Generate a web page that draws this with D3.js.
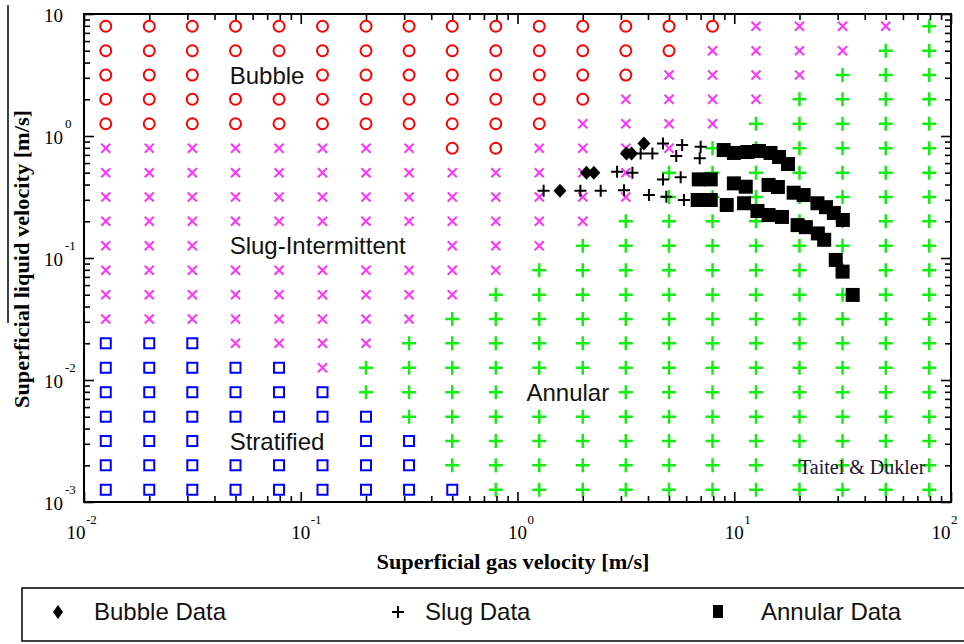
<!DOCTYPE html>
<html>
<head>
<meta charset="utf-8">
<script src="https://cdn.jsdelivr.net/npm/d3@7"></script>
<style>
  body { margin: 0; background: #fff; }
  svg { display: block; }
</style>
</head>
<body>
<div id="chart"></div>
<script>

// Grid of the regime map (superficial velocities, m/s)
var gasGrid = [0.0126, 0.02, 0.0316, 0.05, 0.0794, 0.126, 0.2, 0.316, 0.5, 0.794,
               1.26, 2, 3.16, 5, 7.94, 12.6, 20, 31.6, 50, 79.4];
var liqGrid = [7.94, 5, 3.16, 2, 1.26, 0.794, 0.5, 0.316, 0.2, 0.126,
               0.0794, 0.05, 0.0316, 0.02, 0.0126, 0.00794, 0.005, 0.00316, 0.002, 0.00126];

// o = bubble, x = slug-intermittent, + = annular, s = stratified, . = under a label
var regimeRows = [
  "oooooooooooooooxxxx+",
  "ooooooooooooooxxxx++",
  "ooo..ooooooooxxxx+++",
  "ooooooooooooxxxx++++",
  "oooooooooooxxxx+++++",
  "xxxxxxxxooxxxx++++++",
  "xxxxxxxxxxxxx+++++++",
  "xxxxxxxxxxxxx+++++++",
  "xxxxxxxxxxxx++++++++",
  "xxx.....xxx+++++++++",
  "xxxxxxxxxx++++++++++",
  "xxxxxxxxx+++++++++++",
  "xxxxxxxx++++++++++++",
  "sssxxxx+++++++++++++",
  "sssssx++++++++++++++",
  "ssssss++++..++++++++",
  "sssssss+++++++++++++",
  "sss...ss++++++++++++",
  "ssssssss++++++++++++",
  "sssssssss+++++++++++"
];

// Experimental data
var bubbleGas = [1.57, 2.08, 2.25, 3.18, 3.36, 3.83];
var bubbleLiq = [0.356, 0.50, 0.50, 0.72, 0.72, 0.87];

var slugGas = [1.32, 1.95, 2.42, 3.10, 4.04, 4.86, 5.86, 2.88, 3.39, 4.69, 5.66,
               3.70, 4.19, 4.69, 5.75, 5.40, 7.00, 6.93];
var slugLiq = [0.356, 0.356, 0.356, 0.36, 0.328, 0.318, 0.299, 0.509, 0.50, 0.441, 0.459,
               0.72, 0.72, 0.87, 0.843, 0.686, 0.817, 0.656];

var annularGas = [8.94, 9.96, 11.5, 13.0, 14.7, 16.1, 17.7,
                  6.86, 7.79, 9.96, 11.3, 14.4, 15.9, 18.8, 20.9, 24.2, 26.5, 28.8, 31.7,
                  6.78, 7.79, 9.23, 11.1, 12.8, 14.4, 16.6, 19.6, 21.4, 24.3, 26.0, 29.4, 31.6, 35.2];
var annularLiq = [0.767, 0.726, 0.739, 0.753, 0.726, 0.673, 0.589,
                  0.441, 0.441, 0.409, 0.384, 0.397, 0.382, 0.343, 0.328, 0.281, 0.261, 0.234, 0.205,
                  0.299, 0.299, 0.272, 0.281, 0.243, 0.225, 0.217, 0.186, 0.179, 0.159, 0.141, 0.0964, 0.0773, 0.0498];

// Tick labels
var xTickVals = [0.01, 0.1, 1, 10, 100];
var xTickExp = ["-2", "-1", "0", "1", "2"];
var yTickVals = [10, 1, 0.1, 0.01, 0.001];
var yTickExp = ["", "0", "-1", "-2", "-3"];

// Region labels
var regionNames = ["Bubble", "Slug-Intermittent", "Annular", "Stratified"];
var regionGas = [0.047, 0.047, 1.1, 0.047];
var regionLiq = [3.16, 0.126, 0.00794, 0.00316];

var legendNames = ["Bubble Data", "Slug Data", "Annular Data"];

// SVG area
var svgWidth = 964;
var svgHeight = 644;
var margin = { top: 14, left: 84 };
var width = 867;
var height = 488;

var svg = d3.select("#chart").append("svg")
    .attr("width", svgWidth)
    .attr("height", svgHeight);

var chart = svg.append("g")
    .attr("transform", `translate(${margin.left}, ${margin.top})`);

var x = d3.scaleLog().domain([0.01, 100]).range([0, width]);
var y = d3.scaleLog().domain([0.001, 10]).range([height, 0]);

function isMajor(d) {
  var l = Math.log10(d);
  return Math.abs(l - Math.round(l)) < 1e-6;
}

// Regime map markers
var cells = [];
regimeRows.forEach(function(row, j) {
  row.split("").forEach(function(c, i) {
    if (c !== ".") cells.push({ gas: gasGrid[i], liq: liqGrid[j], regime: c });
  });
});

chart.selectAll(".bub")
    .data(cells.filter(d => d.regime === "o"))
    .enter().append("circle")
    .attr("cx", d => x(d.gas))
    .attr("cy", d => y(d.liq))
    .attr("r", 5.5)
    .attr("fill", "none")
    .attr("stroke", "#ff0000")
    .attr("stroke-width", 2);

chart.selectAll(".slg")
    .data(cells.filter(d => d.regime === "x"))
    .enter().append("path")
    .attr("transform", d => `translate(${x(d.gas)}, ${y(d.liq)})`)
    .attr("d", "M-4.5,-4.5L4.5,4.5M-4.5,4.5L4.5,-4.5")
    .attr("stroke", "#ff33ff")
    .attr("stroke-width", 2);

chart.selectAll(".ann")
    .data(cells.filter(d => d.regime === "+"))
    .enter().append("path")
    .attr("transform", d => `translate(${x(d.gas)}, ${y(d.liq)})`)
    .attr("d", "M-7,0H7M0,-7V7")
    .attr("stroke", "#11ee11")
    .attr("stroke-width", 2.5);

chart.selectAll(".str")
    .data(cells.filter(d => d.regime === "s"))
    .enter().append("rect")
    .attr("x", d => x(d.gas) - 5)
    .attr("y", d => y(d.liq) - 5)
    .attr("width", 10)
    .attr("height", 10)
    .attr("fill", "none")
    .attr("stroke", "#0000ff")
    .attr("stroke-width", 2);

// Region labels
chart.selectAll(".region")
    .data(regionNames)
    .enter().append("text")
    .attr("x", (d, i) => x(regionGas[i]))
    .attr("y", (d, i) => y(regionLiq[i]) + 8.5)
    .attr("font-family", "'Liberation Sans', Arial, sans-serif")
    .attr("font-size", 24)
    .attr("fill", "#111")
    .text(d => d);

// Experimental data
chart.selectAll(".annData")
    .data(annularGas)
    .enter().append("rect")
    .attr("x", (d, i) => x(d) - 7)
    .attr("y", (d, i) => y(annularLiq[i]) - 7)
    .attr("width", 14)
    .attr("height", 14)
    .attr("fill", "#000");

chart.selectAll(".slugData")
    .data(slugGas)
    .enter().append("path")
    .attr("transform", (d, i) => `translate(${x(d)}, ${y(slugLiq[i])})`)
    .attr("d", "M-6,0H6M0,-6V6")
    .attr("stroke", "#000")
    .attr("stroke-width", 2);

chart.selectAll(".bubData")
    .data(bubbleGas)
    .enter().append("path")
    .attr("transform", (d, i) => `translate(${x(d)}, ${y(bubbleLiq[i])})`)
    .attr("d", "M0,-7L6.5,0L0,7L-6.5,0Z")
    .attr("fill", "#000");

chart.append("text")
    .attr("x", 715)
    .attr("y", 460)
    .attr("font-family", "'Liberation Serif', 'Times New Roman', serif")
    .attr("font-size", 20)
    .attr("fill", "#221133")
    .text("Taitel & Dukler");

// Axes: inward ticks on all four sides
var xTicks = x.ticks();
var yTicks = y.ticks();

function styleTicks(g, attr, sign) {
  g.select(".domain").remove();
  g.selectAll(".tick line")
      .attr(attr, d => sign * (isMajor(d) ? 10 : 6))
      .attr("stroke", "#000")
      .attr("stroke-width", 1.6);
}

chart.append("g")
    .attr("transform", `translate(0, ${height})`)
    .call(d3.axisBottom(x).tickValues(xTicks).tickFormat(""))
    .call(g => styleTicks(g, "y2", -1));

chart.append("g")
    .call(d3.axisTop(x).tickValues(xTicks).tickFormat(""))
    .call(g => styleTicks(g, "y2", 1));

chart.append("g")
    .call(d3.axisLeft(y).tickValues(yTicks).tickFormat(""))
    .call(g => styleTicks(g, "x2", 1));

chart.append("g")
    .attr("transform", `translate(${width}, 0)`)
    .call(d3.axisRight(y).tickValues(yTicks).tickFormat(""))
    .call(g => styleTicks(g, "x2", -1));

chart.append("rect")
    .attr("width", width)
    .attr("height", height)
    .attr("fill", "none")
    .attr("stroke", "#000")
    .attr("stroke-width", 2);

// Tick labels (10 with superscript exponent)
var serif = "'Liberation Serif', 'Times New Roman', serif";
var xLabShift = [-8, 0, 0, 0, -10];

var xLab = chart.selectAll(".xlab")
    .data(xTickVals)
    .enter().append("g")
    .attr("transform", (d, i) => `translate(${x(d) + xLabShift[i]}, ${height + 37})`);
xLab.append("text")
    .attr("text-anchor", "middle")
    .attr("font-family", serif)
    .attr("font-size", 19)
    .text("10");
xLab.append("text")
    .attr("x", 10)
    .attr("y", -15)
    .attr("font-family", serif)
    .attr("font-size", 13)
    .text((d, i) => xTickExp[i]);

var yLab = chart.selectAll(".ylab")
    .data(yTickVals)
    .enter().append("g")
    .attr("transform", d => `translate(-21, ${y(d)})`);
yLab.append("text")
    .attr("y", 8)
    .attr("text-anchor", "end")
    .attr("font-family", serif)
    .attr("font-size", 19)
    .text("10");
yLab.append("text")
    .attr("x", 2)
    .attr("y", -8)
    .attr("font-family", serif)
    .attr("font-size", 13)
    .text((d, i) => yTickExp[i]);

// Axis titles
svg.append("text")
    .attr("x", 513)
    .attr("y", 569)
    .attr("text-anchor", "middle")
    .attr("font-family", serif)
    .attr("font-weight", "bold")
    .attr("font-size", 20)
    .attr("textLength", 273)
    .attr("lengthAdjust", "spacingAndGlyphs")
    .text("Superficial gas velocity [m/s]");

svg.append("text")
    .attr("transform", "translate(29, 259) rotate(-90)")
    .attr("text-anchor", "middle")
    .attr("font-family", serif)
    .attr("font-weight", "bold")
    .attr("font-size", 20)
    .attr("textLength", 298)
    .attr("lengthAdjust", "spacingAndGlyphs")
    .text("Superficial liquid velocity [m/s]");

svg.append("line")
    .attr("x1", 8).attr("x2", 8)
    .attr("y1", 5).attr("y2", 323)
    .attr("stroke", "#000")
    .attr("stroke-width", 1.5);

// Legend
var legend = svg.append("g");
legend.append("rect")
    .attr("x", 22)
    .attr("y", 588)
    .attr("width", 960)
    .attr("height", 53)
    .attr("fill", "none")
    .attr("stroke", "#000")
    .attr("stroke-width", 1.5);

var legendMarkX = [58, 398, 718];
var legendTextX = [94, 425, 761];

legend.append("path")
    .attr("transform", `translate(${legendMarkX[0]}, 612)`)
    .attr("d", "M0,-7L5,0L0,7L-5,0Z")
    .attr("fill", "#000");
legend.append("path")
    .attr("transform", `translate(${legendMarkX[1]}, 612)`)
    .attr("d", "M-6,0H6M0,-6V6")
    .attr("stroke", "#000")
    .attr("stroke-width", 2);
legend.append("rect")
    .attr("x", legendMarkX[2] - 5)
    .attr("y", 605)
    .attr("width", 10)
    .attr("height", 13)
    .attr("fill", "#000");

legend.selectAll(".ltext")
    .data(legendNames)
    .enter().append("text")
    .attr("x", (d, i) => legendTextX[i])
    .attr("y", 620)
    .attr("font-family", "'Liberation Sans', Arial, sans-serif")
    .attr("font-size", 24)
    .attr("fill", "#111")
    .text(d => d);

</script>
</body>
</html>
